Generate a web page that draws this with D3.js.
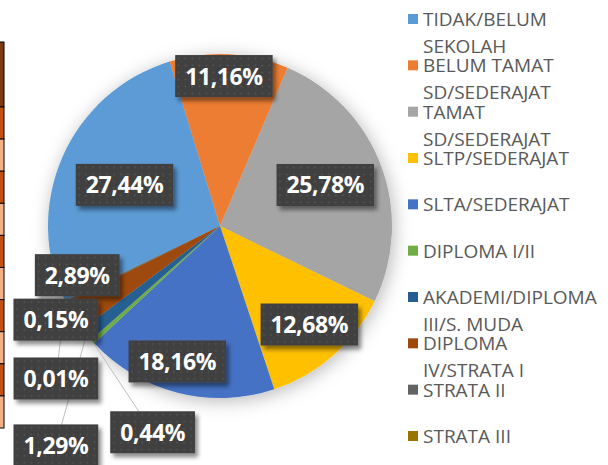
<!DOCTYPE html>
<html>
<head>
<meta charset="utf-8">
<script src="https://cdn.jsdelivr.net/npm/d3@7"></script>
<style>
  body { margin: 0; background: #fff; }
  svg { display: block; font-family: "Open Sans", sans-serif; }
</style>
</head>
<body>
<svg id="chart" width="608" height="465"></svg>
<script>
// education levels, in the order the slices run clockwise
const categories = [
    "TIDAK/BELUM SEKOLAH", "BELUM TAMAT SD/SEDERAJAT", "TAMAT SD/SEDERAJAT",
    "SLTP/SEDERAJAT", "SLTA/SEDERAJAT", "DIPLOMA I/II",
    "AKADEMI/DIPLOMA III/S. MUDA", "DIPLOMA IV/STRATA I", "STRATA II", "STRATA III"
];

// share of the population per level, in percent
const shares = [27.44, 11.16, 25.78, 12.68, 18.16, 0.44, 1.29, 2.89, 0.15, 0.01];

// office default palette
const colors = [
    "#5b9bd5", "#ed7d31", "#a5a5a5", "#ffc000", "#4472c4",
    "#70ad47", "#255e91", "#9e480e", "#636363", "#997300"
];

// where each data label sits: [distance from centre, degrees clockwise from 12 o'clock]
const labelSpots = [
    [104, 293.3], [150, 1.5], [113, 68.7], [133, 137.8], [142, 197.5],
    [217, 198.1], [274, 216.8], [151, 251.0], [189, 240.3], [224, 227.1]
];

// shading of the spreadsheet cells peeking in at the left edge
const stripCells = ["dark", "mid", "light", "mid", "light", "mid", "light", "mid", "light", "mid", "light"];
const stripFill = { dark: "#7f3a12", mid: "#c4520f", light: "#f4b084" };

const width = 608, height = 465;
const cx = 220, cy = 226, radius = 172;
const firstAngle = -115.8; // degrees, where the first slice starts

const svg = d3.select('#chart');
const defs = svg.append('defs');

// soft shadow round the pie
const pieShadow = defs.append('filter').attr('id', 'pieShadow')
    .attr('x', '-30%').attr('y', '-30%').attr('width', '160%').attr('height', '160%');
pieShadow.append('feDropShadow')
    .attr('dx', 2).attr('dy', 3).attr('stdDeviation', 9)
    .attr('flood-color', '#000').attr('flood-opacity', 0.28);

// shadow under the label boxes
const boxShadow = defs.append('filter').attr('id', 'boxShadow')
    .attr('x', '-20%').attr('y', '-30%').attr('width', '150%').attr('height', '170%');
boxShadow.append('feDropShadow')
    .attr('dx', 3).attr('dy', 4).attr('stdDeviation', 2.2)
    .attr('flood-color', '#000').attr('flood-opacity', 0.45);

// dotted dark fill of the label boxes
const dots = defs.append('pattern').attr('id', 'dots')
    .attr('patternUnits', 'userSpaceOnUse').attr('width', 7).attr('height', 7);
dots.append('rect').attr('width', 7).attr('height', 7).attr('fill', '#404040');
dots.append('circle').attr('cx', 3.5).attr('cy', 3.5).attr('r', 0.9).attr('fill', '#555555');

// table fragment on the left edge, first cell is twice as tall as the rest
const stripY = i => i === 0 ? 42 : 107 + (i - 1) * (428 - 107) / (stripCells.length - 1);
const stripH = i => i === 0 ? 65 : (428 - 107) / (stripCells.length - 1);
svg.append('g').attr('class', 'strip')
    .selectAll('rect')
    .data(stripCells)
    .join('rect')
        .attr('x', -1)
        .attr('y', (d, i) => stripY(i))
        .attr('width', 5)
        .attr('height', (d, i) => stripH(i))
        .attr('fill', d => stripFill[d])
        .attr('stroke', '#000')
        .attr('stroke-width', 1);

// the pie itself
const toRad = d => d * Math.PI / 180;
const pie = d3.pie()
    .sort(null)
    .value(d => d)
    .startAngle(toRad(firstAngle))
    .endAngle(toRad(firstAngle + 360));
const arcs = pie(shares);
const arc = d3.arc().innerRadius(0).outerRadius(radius);

const pieGroup = svg.append('g')
    .attr('transform', `translate(${cx},${cy})`)
    .attr('filter', 'url(#pieShadow)');
pieGroup.selectAll('path')
    .data(arcs)
    .join('path')
        .attr('d', arc)
        .attr('fill', (d, i) => colors[i]);

// data labels
const labelFmt = v => d3.format('.2f')(v).replace('.', ',') + '%';
const polar = (r, deg) => [cx + r * Math.sin(toRad(deg)), cy - r * Math.cos(toRad(deg))];

const labels = svg.append('g').attr('class', 'labels');

// leader lines for the thin slices, from the rim out to the box
const rim = d3.arc().innerRadius(radius).outerRadius(radius);
labels.selectAll('line')
    .data(arcs.filter(d => d.value < 2))
    .join('line')
        .attr('x1', d => cx + rim.centroid(d)[0])
        .attr('y1', d => cy + rim.centroid(d)[1])
        .attr('x2', d => polar(...labelSpots[d.index])[0])
        .attr('y2', d => polar(...labelSpots[d.index])[1])
        .attr('stroke', '#bfbfbf')
        .attr('stroke-width', 1);

const label = labels.selectAll('g.label')
    .data(arcs)
    .join('g')
        .attr('class', 'label')
        .attr('transform', d => `translate(${polar(...labelSpots[d.index])})`);

label.append('rect')
    .attr('fill', 'url(#dots)')
    .attr('filter', 'url(#boxShadow)');

label.append('text')
    .attr('text-anchor', 'middle')
    .attr('y', 8.5)
    .attr('fill', '#fff')
    .attr('font-weight', 700)
    .attr('font-size', 23)
    .attr('letter-spacing', -0.4)
    .text(d => labelFmt(d.value));

label.each(function() {
    const g = d3.select(this);
    const w = g.select('text').node().getComputedTextLength() + 20;
    g.select('rect')
        .attr('x', -w / 2).attr('y', -21)
        .attr('width', w).attr('height', 42);
});

// legend on the right, long names wrap onto a second line
const legend = svg.append('g').attr('class', 'legend')
    .attr('transform', 'translate(408,0)');
const rowY = d3.scaleLinear().domain([0, categories.length - 1]).range([26, 443]);

const item = legend.selectAll('g')
    .data(categories)
    .join('g')
        .attr('transform', (d, i) => `translate(0,${rowY(i)})`);

item.append('rect')
    .attr('y', -12).attr('width', 10).attr('height', 10)
    .attr('fill', (d, i) => colors[i]);

item.append('text')
    .attr('x', 15)
    .attr('font-size', 19)
    .attr('fill', '#595959')
    .each(function(d) {
        const text = d3.select(this);
        const words = d.split(' ');
        let line = [];
        let tspan = text.append('tspan').attr('x', 15).attr('dy', 0);
        words.forEach(word => {
            line.push(word);
            tspan.text(line.join(' '));
            if (tspan.node().getComputedTextLength() > 176 && line.length > 1) {
                line.pop();
                tspan.text(line.join(' '));
                line = [word];
                tspan = text.append('tspan').attr('x', 15).attr('dy', 27).text(word);
            }
        });
    });
</script>
</body>
</html>
